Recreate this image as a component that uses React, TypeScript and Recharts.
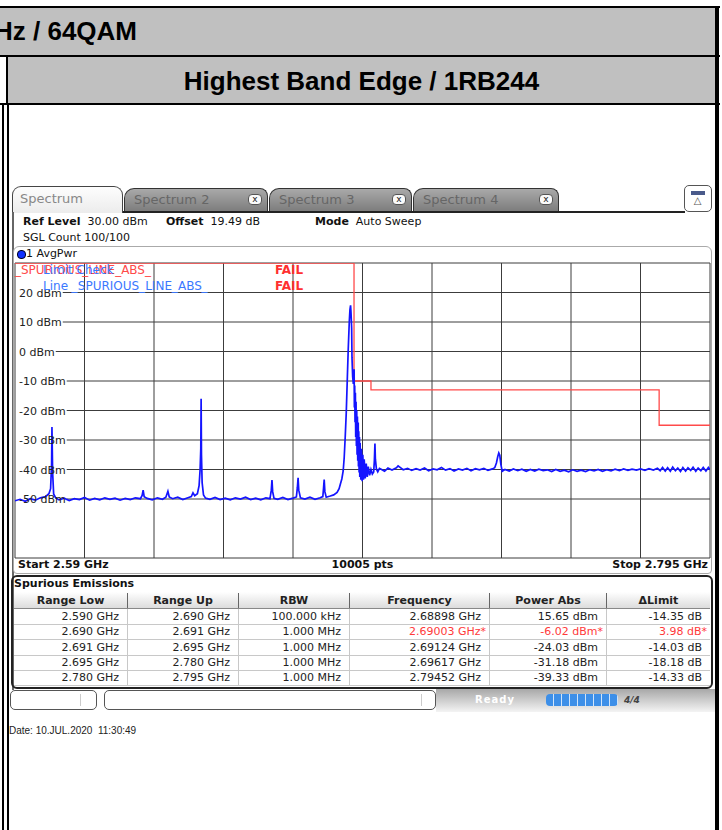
import React from "react";
import { LineChart, Line, XAxis, YAxis, CartesianGrid } from "recharts";

// sweep 2.59 .. 2.795 GHz, 10 divisions
const freqTicks = [2.59, 2.6105, 2.631, 2.6515, 2.672, 2.6925, 2.713, 2.7335, 2.754, 2.7745, 2.795];
const levelTicks = [30, 20, 10, 0, -10, -20, -30, -40, -50, -60, -70];

// spurious limit line (stepped)
const limitGHz = [2.59, 2.69, 2.69, 2.695, 2.695, 2.78, 2.78, 2.795];
const limitDbm = [30, 30, -10, -10, -13, -13, -25, -25];

// trace: [GHz, dBm]
const floorLow: [number, number][] = [
  [2.59, -50.6], [2.5915, -50.1], [2.593, -50.8], [2.5945, -49.9], [2.596, -50.4], [2.5975, -49.6],
  [2.599, -49.2], [2.6, -48.2], [2.6005, -46.5], [2.6008, -38], [2.6009, -25.6], [2.6011, -41],
  [2.6014, -48.3], [2.602, -49.6], [2.603, -50.3], [2.6045, -49.7], [2.606, -50.5], [2.6075, -49.9],
  [2.609, -50.2], [2.6105, -49.5], [2.612, -50.4], [2.6135, -49.8], [2.615, -50.3], [2.6165, -49.6],
  [2.618, -50.1], [2.6195, -49.7], [2.621, -50.4], [2.6225, -49.8], [2.624, -50.2], [2.6255, -49.6],
  [2.627, -49.9], [2.6275, -48.8], [2.6278, -47.0], [2.6281, -49.2], [2.629, -49.8], [2.6305, -50.3],
  [2.632, -49.6], [2.6335, -50.1], [2.6345, -49.4], [2.6351, -47.4], [2.6355, -49.3], [2.6365, -49.9],
  [2.638, -49.4], [2.6395, -50.2], [2.641, -49.6], [2.642, -49.2], [2.6425, -47.9], [2.643, -48.9],
  [2.6438, -48.2], [2.6443, -45.5], [2.6446, -40], [2.6448, -33], [2.6449, -16], [2.645, -35],
  [2.6452, -44.5], [2.6456, -48.6], [2.6462, -49.7], [2.6475, -50.1], [2.649, -49.5], [2.6505, -50.2],
  [2.652, -49.7], [2.6535, -50.3], [2.655, -49.6], [2.6565, -50.0], [2.658, -49.4], [2.6595, -50.2],
  [2.661, -49.7], [2.6625, -50.3], [2.664, -49.6], [2.6652, -49.9], [2.6656, -47], [2.6658, -43.6],
  [2.666, -47.5], [2.6664, -49.8], [2.6675, -50.1], [2.669, -49.5], [2.6705, -50.2], [2.672, -49.7],
  [2.673, -49.3], [2.6733, -46], [2.6735, -42.8], [2.6737, -47], [2.6742, -49.6], [2.6755, -50.0],
  [2.677, -49.4], [2.6785, -50.1], [2.68, -49.6], [2.6808, -49.2], [2.681, -46.5], [2.6812, -43.4],
  [2.6814, -47.5], [2.6818, -49.4], [2.683, -49.0], [2.684, -48.6],
];

const carrier: [number, number][] = [
  [2.685, -47.8], [2.6856, -46.5], [2.686, -44.8], [2.6864, -43.2], [2.6868, -40.5], [2.6871, -36],
  [2.6874, -29], [2.6877, -21], [2.688, -10], [2.6883, 1], [2.6886, 10], [2.6888, 14.2],
  [2.68898, 15.65], [2.6891, 13.5], [2.6893, 8], [2.6894, -2], [2.6896, -8.5], [2.6898, -11],
  [2.69003, -6.02], [2.6901, -19], [2.6902, -11.5], [2.6903, -24], [2.6904, -14], [2.6905, -29],
  [2.6906, -17], [2.6907, -32], [2.6908, -20], [2.6909, -35], [2.691, -22], [2.6911, -37],
  [2.69124, -24.03], [2.6913, -39], [2.6914, -27], [2.6915, -41], [2.6916, -29], [2.6917, -42.5],
  [2.6918, -31], [2.692, -43.5], [2.6922, -33], [2.6924, -44], [2.6926, -35], [2.6928, -43.5],
  [2.693, -36.5], [2.6933, -43], [2.6936, -38], [2.6939, -42.5], [2.6942, -39], [2.6946, -42],
  [2.695, -40], [2.6954, -41.5], [2.6958, -40.8], [2.696, -37], [2.69617, -31.18], [2.6963, -36.5],
  [2.6966, -39.8], [2.697, -40.8], [2.6975, -39.6],
];

const floorHigh: [number, number][] = [
  [2.698, -39.9], [2.699, -40.6], [2.7, -39.5], [2.7012, -40.2], [2.7025, -39.4], [2.703, -38.8],
  [2.7036, -39.3], [2.7045, -40.1], [2.7058, -39.6], [2.707, -40.3], [2.7083, -39.7], [2.7095, -40.2],
  [2.7108, -39.5], [2.712, -40.4], [2.7133, -39.8], [2.7145, -40.1], [2.7158, -39.3], [2.717, -40.2],
  [2.7183, -39.7], [2.7195, -40.5], [2.7208, -39.8], [2.722, -40.2], [2.7233, -39.6], [2.7245, -40.4],
  [2.7258, -39.7], [2.727, -40.1], [2.7283, -39.6], [2.7295, -40.3], [2.7308, -39.8], [2.7315, -39.4],
  [2.732, -37.8], [2.7324, -35.6], [2.7327, -34.4], [2.733, -35.2], [2.7333, -38.2], [2.7337, -40.6],
  [2.7345, -40.0], [2.7358, -40.5], [2.737, -39.8], [2.7383, -40.4], [2.7395, -39.9], [2.7408, -40.6],
  [2.742, -40.0], [2.7433, -40.5], [2.7445, -39.9], [2.7458, -40.4], [2.747, -40.1], [2.7483, -40.7],
  [2.7495, -40.0], [2.7508, -40.6], [2.752, -40.2], [2.7533, -40.8], [2.7545, -40.1], [2.7558, -40.6],
  [2.757, -40.2], [2.7583, -40.7], [2.7595, -40.1], [2.7608, -40.5], [2.762, -40.0], [2.7633, -40.6],
  [2.7645, -40.1], [2.7658, -40.5], [2.767, -39.9], [2.7683, -40.4], [2.7695, -39.8], [2.7708, -40.3],
  [2.772, -39.9], [2.7733, -40.2], [2.7745, -39.8], [2.7758, -40.3], [2.777, -39.7], [2.7783, -40.2],
  [2.7795, -39.6], [2.7803, -40.4], [2.781, -39.3], [2.7818, -40.5], [2.7825, -39.4], [2.7833, -40.6],
  [2.784, -39.2], [2.7848, -40.4], [2.7855, -39.5], [2.7863, -40.7], [2.787, -39.3], [2.7878, -40.5],
  [2.7885, -39.4], [2.7893, -40.3], [2.79, -39.2], [2.7908, -40.6], [2.7915, -39.5], [2.7923, -40.4],
  [2.793, -39.3], [2.7938, -40.5], [2.79452, -39.33], [2.795, -40.1],
];

// spurious emissions result table
const tableHead = ["Range Low", "Range Up", "RBW", "Frequency", "Power Abs", "\u0394Limit"];
const rangeLow = ["2.590 GHz", "2.690 GHz", "2.691 GHz", "2.695 GHz", "2.780 GHz"];
const rangeUp = ["2.690 GHz", "2.691 GHz", "2.695 GHz", "2.780 GHz", "2.795 GHz"];
const rbw = ["100.000 kHz", "1.000 MHz", "1.000 MHz", "1.000 MHz", "1.000 MHz"];
const peakFreq = ["2.68898 GHz", "2.69003 GHz", "2.69124 GHz", "2.69617 GHz", "2.79452 GHz"];
const powerAbs = ["15.65 dBm", "-6.02 dBm", "-24.03 dBm", "-31.18 dBm", "-39.33 dBm"];
const deltaLimit = ["-14.35 dB", "3.98 dB", "-14.03 dB", "-18.18 dB", "-14.33 dB"];
const failRow = [false, true, false, false, false];

const traceData = [...floorLow, ...carrier, ...floorHigh].map(([ghz, dbm]) => ({ ghz, dbm }));
const limitData = limitGHz.map((ghz, i) => ({ ghz, dbm: limitDbm[i] }));

const inst = "'DejaVu Sans', Verdana, sans-serif";
const docFont = "'Liberation Sans', Arial, sans-serif";
const PLOT_H = 295;
const colEdges = [14, 128, 239, 350, 490, 607, 710];

let measureCtx: CanvasRenderingContext2D | null = null;
function textWidth(s: string) {
  if (!measureCtx) {
    measureCtx = document.createElement("canvas").getContext("2d");
    if (measureCtx) measureCtx.font = "11px 'DejaVu Sans'";
  }
  return measureCtx ? measureCtx.measureText(s).width : s.length * 6.5;
}

const dbmLabel = (v: number) => `${v} dBm`;

function levelAt(y: number) {
  return Math.round((30 - ((y - 1) / PLOT_H) * 100) / 10) * 10;
}

// grid line starts after its level label, like on the instrument
function HLine(p: any) {
  const { x1, x2, y1, stroke } = p;
  const v = levelAt(y1);
  const start = v === 30 || v === -70 ? x1 : x1 + 4 + textWidth(dbmLabel(v)) + 1;
  return <line x1={start} x2={x2} y1={y1} y2={y1} stroke={stroke} strokeWidth={1} />;
}

function LevelTick(p: any) {
  const v = p.payload.value;
  if (v === 30 || v === -70) return <g />;
  return (
    <text x={5} y={p.y} dy={4} fontSize={11} fontFamily={inst} fill="#222">
      {dbmLabel(v)}
    </text>
  );
}

function T({ x, y, children, style }: { x: number; y: number; children: React.ReactNode; style?: React.CSSProperties }) {
  return (
    <div style={{ position: "absolute", left: x, top: y - 7, lineHeight: "14px", fontSize: 11, fontFamily: inst, color: "#111", whiteSpace: "nowrap", ...style }}>
      {children}
    </div>
  );
}

function Tab({ left, width, label }: { left: number; width: number; label: string }) {
  return (
    <div style={{ position: "absolute", left, top: 188, width, height: 23, boxSizing: "border-box", border: "1.5px solid #333", borderBottom: "none", borderRadius: "10px 8px 0 0", background: "linear-gradient(#a9a9a9, #7d7d7d)" }}>
      <div style={{ position: "absolute", left: 9, top: 3, fontSize: 13, fontFamily: inst, color: "#666" }}>{label}</div>
      <div style={{ position: "absolute", right: 5, top: 5, width: 14, height: 11, boxSizing: "border-box", border: "1px solid #555", borderRadius: 4, background: "#fafafa", fontSize: 9, lineHeight: "9px", textAlign: "center", fontFamily: inst, color: "#222" }}>x</div>
    </div>
  );
}

export default function App() {
  return (
    <div style={{ position: "absolute", left: 0, top: 0, width: 722, height: 830, overflow: "hidden", background: "#fff" }}>
      {/* document table */}
      <div style={{ position: "absolute", left: 0, top: 6, width: 720, height: 2, background: "#000" }} />
      <div style={{ position: "absolute", left: 0, top: 8, width: 715, height: 47, background: "#c0c0c0" }} />
      <div style={{ position: "absolute", right: 585, top: 16, fontFamily: docFont, fontWeight: 700, fontSize: 26, whiteSpace: "nowrap", color: "#000" }}>Hz / 64QAM</div>
      <div style={{ position: "absolute", left: 0, top: 55, width: 720, height: 2, background: "#000" }} />
      <div style={{ position: "absolute", left: 8, top: 57, width: 707, height: 46, background: "#c0c0c0" }} />
      <div style={{ position: "absolute", left: 8, width: 707, top: 66, textAlign: "center", fontFamily: docFont, fontWeight: 700, fontSize: 26, color: "#000" }}>Highest Band Edge / 1RB244</div>
      <div style={{ position: "absolute", left: 6, top: 57, width: 2, height: 48, background: "#000" }} />
      <div style={{ position: "absolute", left: 0, top: 103, width: 720, height: 2, background: "#000" }} />
      <div style={{ position: "absolute", left: 715, top: 6, width: 4, height: 824, background: "#000" }} />
      <div style={{ position: "absolute", left: 2, top: 105, width: 2, height: 725, background: "#000" }} />
      <div style={{ position: "absolute", left: 7, top: 105, width: 2, height: 725, background: "#000" }} />

      {/* tabs */}
      <Tab left={413} width={146} label="Spectrum 4" />
      <Tab left={269} width={143} label="Spectrum 3" />
      <Tab left={124} width={144} label="Spectrum 2" />
      <div style={{ position: "absolute", left: 120, top: 211, width: 565, height: 2, background: "#222" }} />
      <div style={{ position: "absolute", left: 12, top: 186, width: 111, height: 27, boxSizing: "border-box", border: "1.5px solid #444", borderBottom: "none", borderRadius: "9px 9px 0 0", background: "linear-gradient(#fdfdfd, #ececec)" }}>
        <div style={{ position: "absolute", left: 7, top: 4, fontSize: 13, fontFamily: inst, color: "#888" }}>Spectrum</div>
      </div>
      <div style={{ position: "absolute", left: 12, top: 212, width: 1.5, height: 478, background: "#666" }} />
      <div style={{ position: "absolute", left: 684, top: 185, width: 28, height: 27, boxSizing: "border-box", border: "1.5px solid #555", borderRadius: 5, background: "#fff" }}>
        <div style={{ position: "absolute", left: 6, top: 5, width: 14, height: 4, background: "#4a5a8a" }} />
        <div style={{ position: "absolute", left: 0, width: 25, top: 9, textAlign: "center", fontSize: 10, color: "#555", fontFamily: inst }}>{"\u25B3"}</div>
      </div>

      {/* header */}
      <T x={23} y={222}><b>Ref Level</b>&nbsp; 30.00 dBm</T>
      <T x={166} y={222}><b>Offset</b>&nbsp; 19.49 dB</T>
      <T x={315} y={222}><b>Mode</b>&nbsp; Auto Sweep</T>
      <T x={23} y={238}>SGL Count 100/100</T>

      {/* trace panel */}
      <div style={{ position: "absolute", left: 13, top: 246, width: 699, height: 328, boxSizing: "border-box", border: "1px solid #aaa", borderRadius: "6px 6px 4px 4px" }} />
      <div style={{ position: "absolute", left: 17, top: 250, width: 7, height: 7, borderRadius: 4, background: "#1030ff", border: "0.5px solid #002" }} />
      <T x={26} y={254}>1 AvgPwr</T>

      <div style={{ position: "absolute", left: 14, top: 262 }}>
        <LineChart width={697} height={297} margin={{ top: 1, right: 1, bottom: 1, left: 1 }}>
          <CartesianGrid stroke="#3c3c3c" horizontal={HLine} />
          <XAxis dataKey="ghz" type="number" domain={[2.59, 2.795]} ticks={freqTicks} hide allowDataOverflow />
          <YAxis type="number" domain={[-70, 30]} ticks={levelTicks} mirror axisLine={false} tickLine={false} tick={LevelTick} allowDataOverflow />
          <Line data={limitData} dataKey="dbm" type="linear" stroke="#ff4a4a" strokeWidth={1.3} dot={false} isAnimationActive={false} />
          <Line data={traceData} dataKey="dbm" type="linear" stroke="#1414ff" strokeWidth={1.7} dot={false} isAnimationActive={false} />
        </LineChart>
      </div>

      {/* limit check overlay */}
      <T x={15} y={270} style={{ color: "#ff4a4a", fontSize: 12 }}>_SPURIOUS_LINE_ABS_</T>
      <T x={43} y={270} style={{ color: "#3a78ff", fontSize: 12 }}>Limit Check</T>
      <T x={275} y={270} style={{ color: "#ff3030", fontSize: 12, fontWeight: 700 }}>FAIL</T>
      <T x={43} y={286} style={{ color: "#3a78ff", fontSize: 12 }}>Line _SPURIOUS_LINE_ABS_</T>
      <T x={275} y={286} style={{ color: "#ff3030", fontSize: 12, fontWeight: 700 }}>FAIL</T>

      <T x={18} y={565} style={{ fontWeight: 700 }}>Start 2.59 GHz</T>
      <div style={{ position: "absolute", left: 15, width: 695, top: 558, textAlign: "center", fontSize: 11, fontWeight: 700, fontFamily: inst, color: "#111" }}>10005 pts</div>
      <div style={{ position: "absolute", right: 14, top: 558, fontSize: 11, fontWeight: 700, fontFamily: inst, color: "#111" }}>Stop 2.795 GHz</div>

      {/* spurious emissions table */}
      <div style={{ position: "absolute", left: 11, top: 575, width: 702, height: 114, boxSizing: "border-box", border: "2px solid #222", borderRadius: 6 }} />
      <T x={14} y={584} style={{ fontWeight: 700 }}>Spurious Emissions</T>
      <div style={{ position: "absolute", left: 14, top: 592, width: 696, height: 16, background: "linear-gradient(#ffffff, #dcdcdc)", borderBottom: "1px solid #888" }} />
      {tableHead.map((h, c) => (
        <div key={h} style={{ position: "absolute", left: colEdges[c], width: colEdges[c + 1] - colEdges[c], top: 593, height: 15, textAlign: "center", fontSize: 11, lineHeight: "15px", fontWeight: 700, fontFamily: inst, color: "#222", borderRight: c < 5 ? "1px solid #666" : "none", boxSizing: "border-box" }}>{h}</div>
      ))}
      {rangeLow.map((_, r) => {
        const cells = [rangeLow[r], rangeUp[r], rbw[r], peakFreq[r], powerAbs[r], deltaLimit[r]];
        const top = 609 + r * 15.3;
        return (
          <React.Fragment key={r}>
            <div style={{ position: "absolute", left: 14, top: top + 15, width: 696, height: 1, background: "#c8c8c8" }} />
            {cells.map((txt, c) => {
              const red = failRow[r] && c >= 3;
              return (
                <div key={c} style={{ position: "absolute", left: colEdges[c], width: colEdges[c + 1] - colEdges[c], top, height: 15, boxSizing: "border-box", paddingRight: red ? 3 : 8, textAlign: "right", fontSize: 11, lineHeight: "15px", fontFamily: inst, color: red ? "#ff3a3a" : "#222", borderRight: c < 5 ? "1px solid #c8c8c8" : "none" }}>
                  {txt}{red ? "*" : ""}
                </div>
              );
            })}
          </React.Fragment>
        );
      })}

      {/* status bar */}
      <div style={{ position: "absolute", left: 436, top: 689, width: 279, height: 23, background: "linear-gradient(#a8a8a8, #f4f4f4)" }} />
      <div style={{ position: "absolute", left: 10, top: 690, width: 87, height: 20, boxSizing: "border-box", border: "1px solid #555", borderRadius: 5, background: "#fff" }}>
        <div style={{ position: "absolute", left: 69, top: 3, width: 1, height: 12, background: "#ccc" }} />
      </div>
      <div style={{ position: "absolute", left: 104, top: 690, width: 332, height: 20, boxSizing: "border-box", border: "1px solid #555", borderRadius: 5, background: "#fff" }}>
        <div style={{ position: "absolute", left: 316, top: 3, width: 1, height: 12, background: "#ccc" }} />
      </div>
      <T x={475} y={700} style={{ color: "#fff", fontWeight: 700, fontSize: 10, letterSpacing: 1 }}>Ready</T>
      <div style={{ position: "absolute", left: 546, top: 694, width: 72, height: 12, borderRadius: 4, background: "repeating-linear-gradient(90deg, #3d8fe8 0px, #3d8fe8 7px, #d0e4fa 7px, #d0e4fa 8px)" }} />
      <T x={624} y={700} style={{ color: "#444", fontWeight: 700, fontStyle: "italic", fontSize: 9 }}>4/4</T>

      <div style={{ position: "absolute", left: 9, top: 725, fontFamily: docFont, fontSize: 10, color: "#222", whiteSpace: "pre" }}>Date: 10.JUL.2020  11:30:49</div>
    </div>
  );
}
